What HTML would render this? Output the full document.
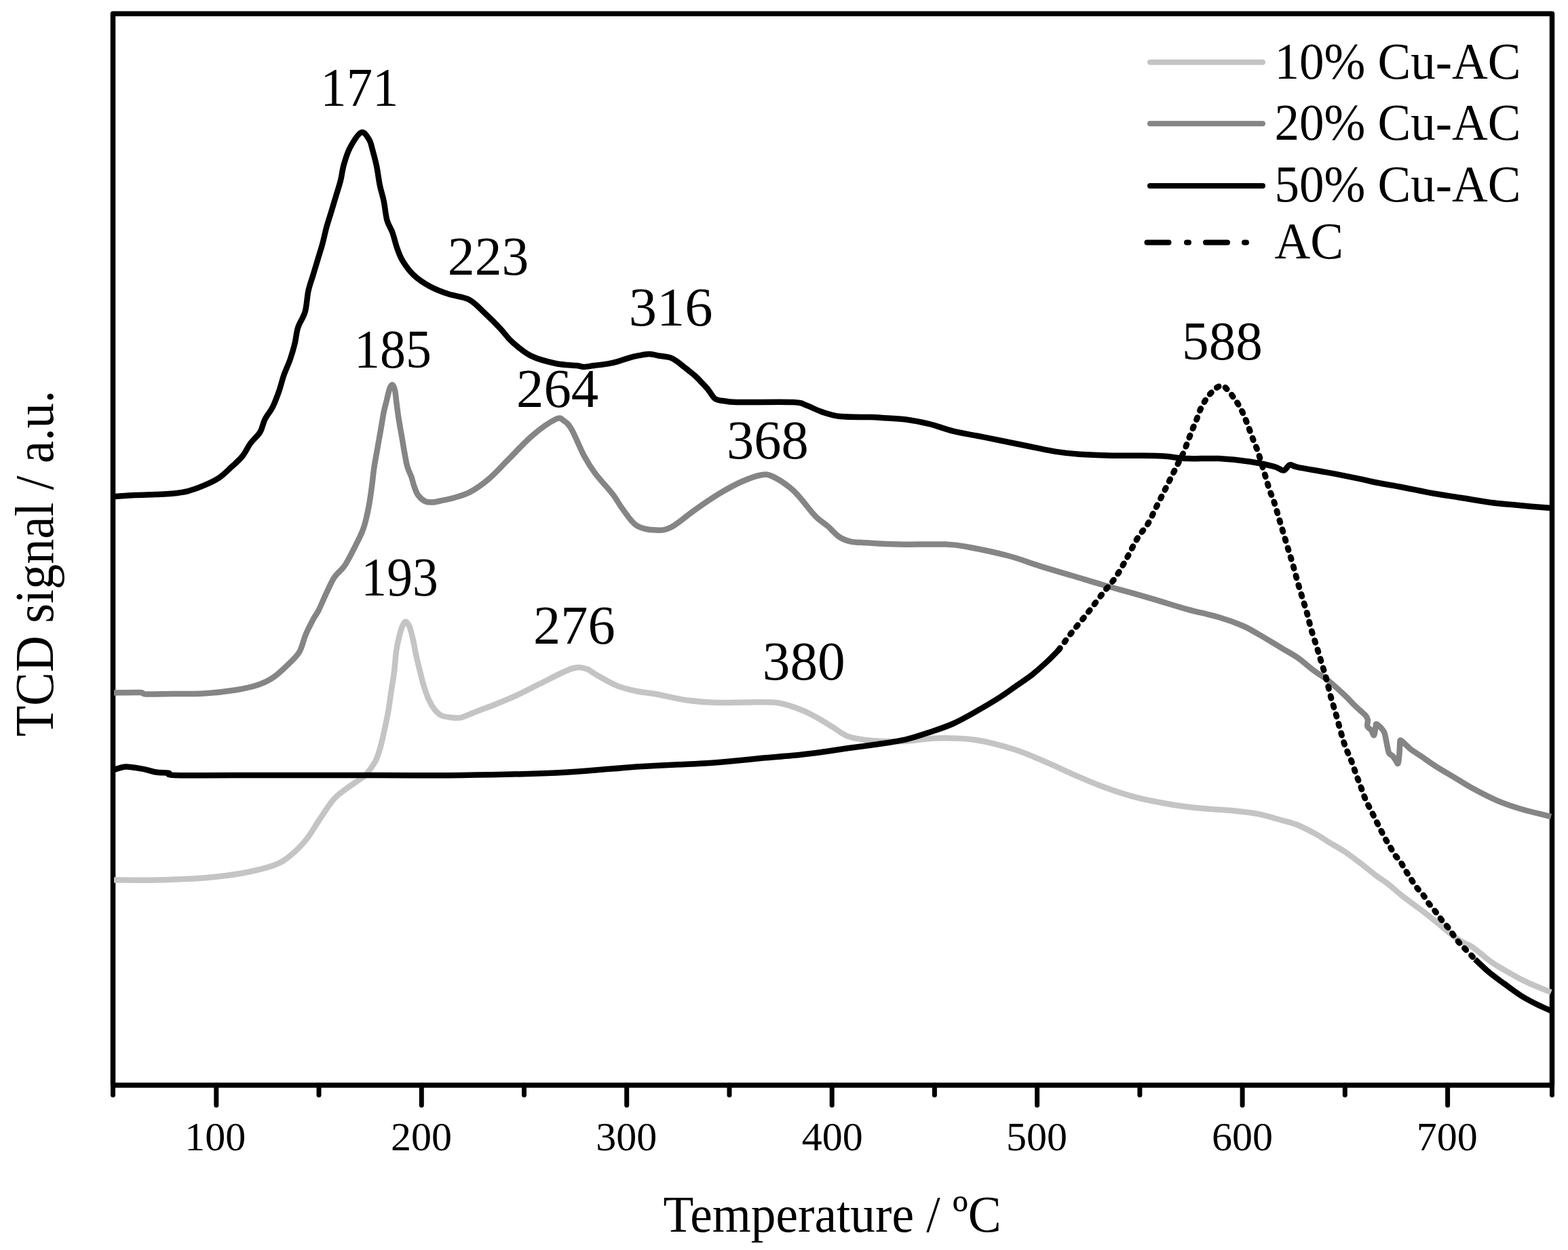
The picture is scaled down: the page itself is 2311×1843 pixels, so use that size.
<!DOCTYPE html>
<html><head><meta charset="utf-8"><title>TCD signal vs Temperature</title>
<style>html,body{margin:0;padding:0;background:#fff;}body{width:2311px;height:1843px;overflow:hidden;}svg{display:block;}</style>
</head><body>
<svg width="2311" height="1843" viewBox="0 0 2311 1843" font-family="'Liberation Serif', 'Times New Roman', serif" fill="#000">
<path d="M166.5,1600 L166.5,20.3 L2287.5,20.3 L2287.5,1600 Z" fill="none" stroke="#000" stroke-width="7.5" stroke-linejoin="round"/>
<path d="M318.8,1600 V1629.5 M621.3,1600 V1629.5 M923.7,1600 V1629.5 M1226.2,1600 V1629.5 M1528.6,1600 V1629.5 M1831.1,1600 V1629.5 M2133.6,1600 V1629.5 M470.0,1600 V1614.5 M772.5,1600 V1614.5 M1075.0,1600 V1614.5 M1377.4,1600 V1614.5 M1679.9,1600 V1614.5 M1982.3,1600 V1614.5 M166.5,1600 V1614.5 M2287.5,1600 V1614.5" stroke="#000" stroke-width="7" stroke-linecap="round" fill="none"/>
<path d="M168.0,1297.5 C178.3,1297.5 207.9,1298.0 229.8,1297.5 C251.7,1297.0 278.3,1296.2 299.6,1294.5 C320.9,1292.8 340.4,1290.5 357.8,1287.3 C375.2,1284.1 392.7,1279.9 404.3,1275.6 C415.9,1271.3 419.8,1267.9 427.6,1261.7 C435.4,1255.5 443.9,1246.9 450.9,1238.4 C457.9,1229.9 462.9,1220.2 469.5,1210.5 C476.1,1200.8 483.8,1188.0 490.4,1180.2 C497.0,1172.4 502.0,1169.3 509.0,1163.9 C516.0,1158.5 527.1,1151.6 532.3,1147.7 C537.5,1143.8 536.9,1145.1 540.4,1140.8 C543.9,1136.5 550.1,1128.5 553.5,1121.9 C556.9,1115.4 558.5,1109.0 560.7,1101.5 C562.9,1094.0 564.5,1085.8 566.5,1076.8 C568.5,1067.8 570.7,1057.4 572.4,1047.7 C574.1,1038.0 575.2,1028.3 576.7,1018.6 C578.2,1008.9 579.9,999.2 581.1,989.5 C582.3,979.8 582.8,969.0 584.0,960.5 C585.2,952.0 586.9,944.7 588.4,938.6 C589.9,932.5 591.1,927.7 592.7,924.1 C594.3,920.5 596.0,916.8 597.8,916.8 C599.6,916.8 601.8,919.7 603.6,924.1 C605.4,928.5 607.1,936.2 608.7,943.0 C610.3,949.8 611.4,957.0 613.1,964.8 C614.8,972.5 617.0,981.7 618.9,989.5 C620.8,997.3 622.5,1004.4 624.7,1011.4 C626.9,1018.4 629.3,1025.9 632.0,1031.7 C634.7,1037.5 637.6,1042.4 640.7,1046.3 C643.9,1050.2 646.8,1053.1 650.9,1055.0 C655.0,1056.9 660.6,1057.4 665.5,1057.9 C670.4,1058.4 673.8,1059.4 680.0,1057.9 C686.2,1056.4 694.4,1052.0 702.9,1048.7 C711.4,1045.4 721.1,1042.1 730.8,1038.2 C740.5,1034.3 750.1,1030.4 761.0,1025.4 C771.9,1020.4 782.4,1014.6 796.0,1008.0 C809.6,1001.4 831.3,989.6 842.5,985.9 C853.7,982.2 857.6,984.5 863.4,985.9 C869.2,987.2 870.0,989.9 877.4,994.0 C884.8,998.1 897.6,1006.1 907.7,1010.3 C917.8,1014.5 928.1,1016.9 937.9,1019.0 C947.7,1021.1 954.0,1021.0 966.5,1023.2 C979.0,1025.5 997.6,1030.4 1013.1,1032.5 C1028.6,1034.6 1045.1,1035.5 1059.6,1036.0 C1074.1,1036.5 1085.5,1035.5 1100.0,1035.5 C1114.5,1035.5 1132.9,1034.3 1146.4,1036.2 C1159.9,1038.1 1171.5,1043.0 1181.2,1046.7 C1190.9,1050.4 1196.7,1054.0 1204.4,1058.3 C1212.1,1062.5 1219.9,1067.6 1227.6,1072.2 C1235.3,1076.8 1241.0,1082.8 1250.7,1086.1 C1260.4,1089.4 1272.0,1090.7 1285.5,1091.9 C1299.0,1093.1 1316.4,1093.7 1331.9,1093.1 C1347.4,1092.5 1360.9,1088.8 1378.3,1088.4 C1395.7,1088.0 1417.0,1088.0 1436.3,1090.7 C1455.6,1093.4 1476.8,1099.3 1494.2,1104.7 C1511.6,1110.1 1525.1,1116.6 1540.6,1123.2 C1556.1,1129.8 1572.8,1137.9 1587.0,1144.1 C1601.2,1150.2 1611.6,1154.9 1625.8,1160.1 C1640.0,1165.3 1655.5,1170.8 1672.3,1175.2 C1689.1,1179.6 1709.7,1183.4 1726.5,1186.2 C1743.3,1189.0 1757.6,1190.5 1773.1,1192.0 C1788.6,1193.5 1806.0,1194.1 1819.6,1195.5 C1833.2,1196.9 1842.9,1197.9 1854.5,1200.2 C1866.1,1202.5 1879.7,1206.8 1889.4,1209.5 C1899.1,1212.2 1904.2,1213.0 1912.7,1216.5 C1921.2,1220.0 1932.8,1226.1 1940.6,1230.4 C1948.3,1234.7 1952.2,1237.8 1959.2,1242.1 C1966.2,1246.4 1974.3,1250.5 1982.5,1256.0 C1990.7,1261.5 2001.1,1269.7 2008.6,1275.4 C2016.0,1281.1 2021.0,1285.7 2027.2,1290.3 C2033.4,1294.9 2039.7,1298.5 2045.9,1303.3 C2052.1,1308.1 2058.3,1314.1 2064.5,1319.1 C2070.7,1324.1 2076.9,1328.4 2083.1,1333.1 C2089.3,1337.8 2095.5,1342.3 2101.7,1347.1 C2107.9,1351.9 2115.6,1358.2 2120.3,1362.0 C2125.0,1365.8 2124.4,1365.8 2129.7,1370.0 C2135.0,1374.2 2145.5,1383.0 2152.3,1387.4 C2159.1,1391.8 2162.8,1391.3 2170.3,1396.4 C2177.8,1401.5 2188.4,1411.7 2197.4,1418.0 C2206.4,1424.3 2215.4,1429.2 2224.4,1434.3 C2233.4,1439.4 2241.2,1443.9 2251.5,1448.7 C2261.8,1453.5 2280.2,1460.7 2286.0,1463.1" fill="none" stroke="#c4c4c4" stroke-width="8.5" stroke-linejoin="round" stroke-linecap="butt"/>
<path d="M168.0,1021.5 C174.4,1021.4 198.7,1020.7 206.5,1021.0 C214.3,1021.3 207.2,1023.2 215.0,1023.5 C222.8,1023.8 239.0,1023.2 253.1,1023.0 C267.2,1022.8 284.1,1023.4 299.6,1022.5 C315.1,1021.6 332.6,1019.7 346.2,1017.5 C359.8,1015.3 371.4,1012.7 381.1,1009.4 C390.8,1006.1 396.6,1003.1 404.3,997.7 C412.1,992.3 421.4,983.0 427.6,976.8 C433.8,970.6 437.7,967.5 441.6,960.5 C445.5,953.5 447.4,943.0 450.9,934.9 C454.4,926.8 459.4,917.4 462.5,911.6 C465.6,905.8 466.4,906.2 469.5,900.0 C472.6,893.8 477.2,882.5 481.1,874.4 C485.0,866.2 488.2,858.1 492.8,851.1 C497.4,844.1 503.2,841.5 509.0,832.5 C514.8,823.5 523.0,806.6 527.6,797.3 C532.2,788.0 533.7,785.4 536.4,776.9 C539.1,768.4 541.7,756.3 543.6,746.4 C545.5,736.5 546.7,727.0 548.0,717.3 C549.3,707.6 550.1,697.9 551.6,688.2 C553.1,678.5 555.0,668.8 556.7,659.1 C558.4,649.4 560.3,638.5 561.8,630.0 C563.3,621.5 564.2,614.8 565.5,608.2 C566.8,601.7 568.3,596.5 569.8,590.7 C571.2,584.9 572.8,577.2 574.2,573.3 C575.7,569.4 577.2,567.0 578.5,567.5 C579.8,568.0 581.2,571.9 582.2,576.2 C583.2,580.6 583.5,587.1 584.4,593.6 C585.2,600.1 586.1,607.7 587.3,615.5 C588.5,623.3 590.1,631.7 591.6,640.2 C593.1,648.7 594.5,658.4 596.0,666.4 C597.5,674.4 598.7,682.2 600.4,688.2 C602.1,694.2 604.5,697.9 606.2,702.7 C607.9,707.6 608.8,712.7 610.5,717.3 C612.2,721.9 613.7,726.8 616.4,730.4 C619.1,734.0 622.9,737.4 626.5,739.1 C630.1,740.8 633.8,740.8 638.2,740.5 C642.6,740.2 647.7,738.6 652.7,737.6 C657.7,736.6 661.2,736.4 668.0,734.3 C674.8,732.2 684.7,729.9 693.6,725.0 C702.5,720.1 712.2,713.2 721.5,705.2 C730.8,697.2 738.9,687.8 749.4,677.3 C759.9,666.8 772.7,652.3 784.3,642.4 C795.9,632.5 811.4,621.7 819.2,618.0 C827.0,614.3 827.0,617.8 830.9,620.3 C834.8,622.8 837.5,624.4 842.5,633.1 C847.5,641.8 855.3,661.8 861.1,672.6 C866.9,683.5 870.4,688.9 877.4,698.2 C884.4,707.5 896.2,719.7 903.0,728.5 C909.8,737.3 912.1,743.3 918.0,751.0 C923.9,758.7 930.2,769.7 938.3,774.8 C946.4,779.9 957.9,781.2 966.5,781.6 C975.1,782.0 980.1,782.0 989.8,777.0 C999.5,772.0 1013.1,759.5 1024.7,751.4 C1036.3,743.2 1048.0,735.1 1059.6,728.1 C1071.2,721.1 1084.0,714.1 1094.5,709.5 C1105.0,704.9 1115.0,701.4 1122.4,700.2 C1129.8,699.0 1131.7,699.4 1138.7,702.5 C1145.7,705.6 1157.6,713.6 1164.3,718.8 C1171.0,724.0 1172.7,726.5 1179.0,733.6 C1185.3,740.7 1195.4,754.5 1202.2,761.5 C1209.0,768.5 1213.8,770.4 1219.6,775.4 C1225.4,780.4 1231.2,787.7 1237.0,791.6 C1242.8,795.5 1247.7,797.2 1254.4,798.6 C1261.2,800.0 1265.9,799.6 1277.5,800.3 C1289.1,801.0 1304.6,802.2 1323.9,802.6 C1343.2,803.0 1376.2,801.9 1393.5,802.6 C1410.8,803.3 1412.5,803.9 1428.0,806.7 C1443.5,809.5 1468.8,814.9 1486.2,819.5 C1503.7,824.1 1517.2,829.8 1532.7,834.6 C1548.2,839.4 1563.7,843.9 1579.2,848.5 C1594.7,853.1 1610.3,858.0 1625.8,862.5 C1641.3,867.0 1659.4,871.6 1672.3,875.3 C1685.2,878.9 1690.4,880.6 1703.3,884.4 C1716.2,888.2 1734.3,894.0 1749.8,898.3 C1765.3,902.6 1782.7,906.0 1796.3,910.0 C1809.9,914.0 1821.5,918.4 1831.2,922.5 C1840.9,926.6 1844.8,929.4 1854.5,934.9 C1864.2,940.4 1879.7,950.0 1889.4,955.8 C1899.1,961.6 1904.9,964.4 1912.7,969.8 C1920.5,975.2 1928.2,982.6 1936.0,988.4 C1943.8,994.2 1951.5,998.5 1959.2,1004.7 C1967.0,1010.9 1976.5,1020.1 1982.5,1025.7 C1988.5,1031.3 1991.5,1035.0 1995.0,1038.5 C1998.5,1042.0 2000.8,1043.9 2003.7,1046.6 C2006.6,1049.3 2010.5,1052.4 2012.5,1054.8 C2014.5,1057.2 2015.4,1058.5 2015.9,1061.2 C2016.4,1063.9 2014.5,1068.5 2015.4,1071.1 C2016.3,1073.7 2019.6,1074.8 2021.2,1076.9 C2022.8,1079.0 2024.1,1084.9 2025.2,1083.9 C2026.3,1082.9 2027.0,1073.8 2027.6,1071.1 C2028.2,1068.4 2027.3,1067.2 2028.7,1067.6 C2030.1,1068.0 2033.8,1071.3 2035.7,1073.4 C2037.7,1075.5 2039.2,1077.6 2040.4,1080.4 C2041.6,1083.2 2041.9,1086.7 2042.7,1090.3 C2043.5,1093.9 2044.2,1098.5 2045.0,1101.9 C2045.8,1105.3 2046.0,1108.4 2047.4,1110.6 C2048.8,1112.8 2051.5,1113.3 2053.2,1115.3 C2054.9,1117.2 2056.6,1120.6 2057.8,1122.3 C2059.1,1124.0 2059.9,1127.2 2060.7,1125.2 C2061.5,1123.2 2062.1,1115.0 2062.5,1110.6 C2062.9,1106.2 2062.8,1102.2 2063.1,1099.0 C2063.4,1095.8 2062.9,1091.8 2064.2,1091.4 C2065.4,1091.0 2068.1,1094.5 2070.6,1096.7 C2073.1,1098.9 2075.3,1101.7 2079.4,1104.8 C2083.5,1107.9 2088.9,1111.1 2095.0,1115.3 C2101.1,1119.5 2108.1,1124.7 2116.2,1129.8 C2124.2,1134.9 2134.3,1140.7 2143.3,1146.1 C2152.3,1151.5 2159.8,1156.6 2170.3,1162.3 C2180.8,1168.0 2194.4,1175.2 2206.4,1180.3 C2218.4,1185.4 2229.2,1189.0 2242.5,1193.0 C2255.8,1197.0 2278.8,1202.2 2286.0,1204.0" fill="none" stroke="#858585" stroke-width="8.5" stroke-linejoin="round"/>
<path d="M168.0,1135.0 C170.9,1134.2 178.4,1130.6 185.6,1130.4 C192.8,1130.2 203.8,1132.6 211.2,1133.9 C218.6,1135.2 223.6,1137.5 229.8,1138.5 C236.0,1139.5 243.8,1139.0 248.4,1139.7 C253.1,1140.5 241.4,1142.5 257.7,1143.0 C274.0,1143.5 296.5,1143.0 346.2,1143.0 C395.9,1143.0 500.0,1143.0 555.6,1143.0 C611.2,1143.0 635.7,1143.6 679.6,1143.0 C723.5,1142.4 782.4,1141.1 819.2,1139.5 C856.1,1137.9 880.9,1135.1 900.7,1133.6 C920.5,1132.1 921.4,1131.5 937.9,1130.5 C954.4,1129.5 982.7,1128.2 1000.0,1127.3 C1017.3,1126.4 1027.8,1126.1 1041.7,1125.2 C1055.6,1124.3 1069.6,1123.0 1083.5,1121.7 C1097.4,1120.4 1111.3,1118.9 1125.2,1117.6 C1139.1,1116.3 1153.1,1115.5 1167.0,1114.1 C1180.9,1112.7 1194.8,1111.0 1208.7,1109.2 C1222.6,1107.4 1236.6,1105.0 1250.5,1103.0 C1264.4,1101.0 1278.1,1099.6 1292.2,1097.5 C1306.3,1095.4 1322.0,1093.3 1334.9,1090.3 C1347.8,1087.3 1358.2,1083.6 1369.8,1079.7 C1381.4,1075.8 1393.1,1072.2 1404.7,1067.0 C1416.3,1061.8 1428.0,1055.0 1439.6,1048.4 C1451.2,1041.8 1464.8,1033.7 1474.5,1027.5 C1484.2,1021.3 1490.0,1016.6 1497.8,1011.2 C1505.6,1005.8 1513.3,1001.0 1521.1,994.9 C1528.8,988.8 1537.7,980.6 1544.3,974.5 C1550.9,968.4 1557.9,960.8 1560.6,958.0" fill="none" stroke="#000" stroke-width="8.5" stroke-linejoin="round"/>
<path d="M1560.6,958.0 C1563.7,953.8 1572.2,941.9 1579.2,933.0 C1586.2,924.1 1594.7,914.2 1602.5,904.4 C1610.3,894.6 1618.8,883.0 1625.8,874.1 C1632.8,865.2 1638.6,859.4 1644.4,850.9 C1650.2,842.4 1655.3,832.7 1660.7,823.0 C1666.1,813.3 1671.8,801.1 1677.0,792.7 C1682.2,784.3 1687.2,779.9 1691.6,772.7 C1696.0,765.5 1699.4,757.1 1703.3,749.4 C1707.2,741.6 1711.0,734.0 1714.9,726.2 C1718.8,718.5 1722.6,710.7 1726.5,702.9 C1730.4,695.1 1735.2,685.5 1738.2,679.6 C1741.2,673.7 1742.2,672.1 1744.3,667.3 C1746.4,662.5 1748.6,656.2 1750.7,650.7 C1752.8,645.2 1755.0,639.4 1757.1,634.1 C1759.2,628.8 1761.5,623.9 1763.5,618.8 C1765.5,613.7 1767.2,608.1 1769.3,603.4 C1771.4,598.7 1773.8,594.4 1776.3,590.5 C1778.8,586.6 1781.4,583.3 1784.0,580.3 C1786.6,577.3 1788.8,574.6 1791.7,572.6 C1794.6,570.6 1798.3,568.1 1801.3,568.5 C1804.3,568.9 1806.7,572.2 1809.6,575.2 C1812.5,578.2 1815.8,582.9 1818.6,586.7 C1821.4,590.5 1823.8,593.9 1826.2,598.2 C1828.7,602.5 1831.0,607.0 1833.3,612.3 C1835.6,617.6 1837.9,624.0 1840.3,630.2 C1842.7,636.4 1845.1,643.2 1847.4,649.4 C1849.8,655.6 1851.7,659.2 1854.4,667.3 C1857.1,675.4 1861.1,689.2 1863.8,698.2 C1866.5,707.2 1868.5,714.5 1870.8,721.5 C1873.1,728.5 1875.5,733.1 1877.8,740.1 C1880.1,747.1 1882.5,755.6 1884.8,763.4 C1887.1,771.2 1889.4,779.0 1891.7,786.7 C1894.0,794.5 1896.4,802.1 1898.7,809.9 C1901.0,817.6 1903.4,825.1 1905.7,833.2 C1908.0,841.4 1910.4,850.6 1912.7,858.8 C1915.0,866.9 1917.4,874.4 1919.7,882.1 C1922.0,889.9 1924.6,897.7 1926.7,905.3 C1928.8,912.9 1930.2,919.9 1932.5,927.9 C1934.8,935.9 1938.1,945.4 1940.6,953.5 C1943.1,961.6 1945.3,969.0 1947.6,976.8 C1949.9,984.6 1952.3,991.6 1954.6,1000.1 C1956.9,1008.6 1959.3,1019.5 1961.6,1028.0 C1963.9,1036.5 1966.2,1043.2 1968.5,1051.3 C1970.8,1059.4 1973.2,1068.7 1975.5,1076.8 C1977.8,1084.9 1979.8,1092.6 1982.5,1100.1 C1985.2,1107.6 1989.1,1115.0 1991.8,1122.0 C1994.5,1129.0 1996.5,1135.6 1998.8,1142.0 C2001.1,1148.4 2003.5,1154.4 2005.8,1160.6 C2008.1,1166.8 2010.1,1173.0 2012.8,1179.2 C2015.5,1185.4 2019.0,1191.6 2022.1,1197.8 C2025.2,1204.0 2028.3,1210.4 2031.4,1216.5 C2034.5,1222.6 2037.8,1229.4 2040.5,1234.4 C2043.2,1239.4 2045.2,1242.3 2047.7,1246.5 C2050.2,1250.7 2052.5,1255.7 2055.2,1259.6 C2057.8,1263.5 2061.1,1266.2 2063.6,1269.8 C2066.1,1273.4 2067.9,1277.4 2070.1,1281.0 C2072.3,1284.6 2074.4,1287.8 2076.6,1291.2 C2078.8,1294.6 2080.8,1298.1 2083.1,1301.5 C2085.4,1304.9 2088.1,1308.6 2090.6,1311.7 C2093.1,1314.8 2095.7,1317.0 2098.0,1320.1 C2100.3,1323.2 2102.0,1326.9 2104.5,1330.3 C2107.0,1333.7 2110.4,1337.5 2112.9,1340.6 C2115.4,1343.7 2117.1,1345.8 2119.4,1348.9 C2121.7,1352.0 2124.4,1356.1 2126.9,1359.2 C2129.4,1362.3 2132.0,1364.6 2134.3,1367.6 C2136.6,1370.5 2138.5,1373.7 2140.8,1376.9 C2143.1,1380.2 2145.8,1384.0 2148.3,1387.1 C2150.8,1390.2 2151.6,1391.0 2155.9,1395.5 C2160.2,1400.0 2171.0,1411.2 2174.0,1414.4" fill="none" stroke="#000" stroke-width="8.8" stroke-dasharray="3.2 11" stroke-linecap="round"/>
<path d="M2174.0,1414.4 C2177.6,1417.7 2188.4,1428.3 2195.6,1434.3 C2202.8,1440.3 2209.4,1444.8 2217.2,1450.5 C2225.0,1456.2 2234.4,1463.4 2242.5,1468.5 C2250.6,1473.6 2258.7,1477.6 2265.9,1481.2 C2273.2,1484.8 2282.7,1488.7 2286.0,1490.2" fill="none" stroke="#000" stroke-width="8.5" stroke-linejoin="round"/>
<path d="M168.0,732.0 C173.3,731.7 189.3,730.6 199.6,730.1 C209.9,729.6 220.9,729.4 229.8,729.0 C238.7,728.6 245.3,728.6 253.1,727.8 C260.9,727.0 268.6,726.2 276.3,724.3 C284.1,722.4 291.8,719.5 299.6,716.2 C307.4,712.9 315.9,709.2 322.9,704.5 C329.9,699.8 335.7,693.6 341.5,688.2 C347.3,682.8 353.2,677.8 357.8,672.0 C362.4,666.2 365.1,659.1 369.4,653.3 C373.7,647.5 379.9,642.8 383.4,637.0 C386.9,631.2 387.3,624.6 390.4,618.4 C393.5,612.2 398.5,606.8 402.0,599.8 C405.5,592.8 408.6,584.2 411.3,576.5 C414.0,568.8 415.6,561.0 418.3,553.3 C421.0,545.5 424.9,537.9 427.6,530.0 C430.3,522.1 432.7,513.9 434.6,506.0 C436.5,498.1 436.7,490.6 439.2,482.8 C441.7,475.1 447.2,468.4 449.7,459.5 C452.2,450.6 452.5,438.1 454.4,429.2 C456.3,420.3 459.0,413.8 461.3,406.0 C463.6,398.2 466.0,390.5 468.3,382.7 C470.6,374.9 473.2,367.2 475.3,359.4 C477.4,351.6 478.9,343.7 481.0,336.0 C483.1,328.3 485.7,320.7 488.0,313.0 C490.3,305.3 492.7,297.4 495.0,289.6 C497.3,281.8 500.1,273.8 502.0,266.0 C503.9,258.2 504.4,251.1 506.7,243.0 C509.0,234.9 511.7,225.4 516.0,217.5 C520.3,209.6 527.6,197.3 532.3,195.4 C537.0,193.5 541.2,201.4 544.0,205.8 C546.8,210.2 547.4,215.3 549.3,221.9 C551.1,228.5 553.4,236.7 555.1,245.2 C556.9,253.7 558.0,264.6 559.8,273.1 C561.5,281.6 563.9,287.8 565.6,296.3 C567.4,304.8 568.2,316.5 570.3,324.3 C572.4,332.1 575.9,335.9 578.4,342.9 C580.9,349.9 582.9,359.2 585.4,366.2 C587.9,373.2 589.4,378.2 593.5,384.8 C597.6,391.4 603.2,399.5 609.8,405.7 C616.4,411.9 624.6,417.4 633.1,422.0 C641.6,426.6 651.3,430.3 661.0,433.6 C670.7,436.9 682.4,437.1 691.3,441.8 C700.2,446.5 706.8,454.4 714.5,461.6 C722.2,468.8 731.2,477.8 737.8,484.8 C744.4,491.8 746.7,496.8 754.1,503.4 C761.5,510.0 771.1,519.0 782.0,524.4 C792.9,529.8 807.9,533.6 819.2,536.0 C830.5,538.4 843.2,538.2 850.0,539.0 C856.8,539.8 856.0,541.0 860.2,541.0 C864.5,541.0 869.5,539.8 875.5,539.0 C881.5,538.2 889.9,537.4 895.9,536.4 C901.9,535.4 906.1,534.3 911.2,532.9 C916.3,531.5 921.4,529.2 926.5,527.8 C931.6,526.3 936.7,525.2 941.8,524.2 C946.9,523.2 952.0,522.0 957.1,522.1 C962.2,522.2 967.3,523.9 972.4,524.7 C977.5,525.6 983.5,525.8 987.8,527.2 C992.1,528.6 994.6,530.6 998.0,532.9 C1001.4,535.2 1004.0,537.6 1008.2,541.0 C1012.5,544.4 1019.2,549.5 1023.5,553.3 C1027.8,557.0 1030.3,559.9 1033.7,563.5 C1037.1,567.1 1040.5,570.6 1043.9,574.7 C1047.3,578.8 1049.8,585.2 1054.1,588.0 C1058.3,590.8 1063.1,590.7 1069.4,591.5 C1075.8,592.3 1075.6,592.8 1092.2,593.0 C1108.8,593.2 1153.1,592.3 1169.0,593.0 C1184.9,593.7 1180.6,594.9 1187.6,597.3 C1194.6,599.6 1202.4,604.3 1210.9,607.1 C1219.4,609.9 1226.8,612.8 1238.8,614.1 C1250.8,615.4 1272.8,614.7 1283.0,615.0 C1293.2,615.3 1291.3,615.4 1300.0,616.0 C1308.7,616.6 1323.4,617.0 1335.0,618.5 C1346.6,620.0 1358.2,622.4 1369.8,625.2 C1381.4,628.1 1393.1,632.7 1404.7,635.6 C1416.3,638.5 1428.0,640.2 1439.6,642.5 C1451.2,644.8 1460.9,646.8 1474.5,649.5 C1488.1,652.2 1507.5,656.3 1521.1,659.0 C1534.7,661.7 1544.4,664.1 1556.0,665.9 C1567.6,667.7 1577.0,668.8 1590.9,669.8 C1604.9,670.8 1624.9,671.4 1639.7,671.7 C1654.5,672.0 1667.5,671.6 1680.0,671.8 C1692.5,671.9 1703.3,671.9 1714.9,672.6 C1726.5,673.3 1736.2,675.5 1749.8,676.1 C1763.4,676.7 1780.8,675.3 1796.3,676.1 C1811.8,676.9 1829.3,678.8 1842.9,680.8 C1856.5,682.8 1869.7,685.7 1877.8,687.8 C1885.9,689.9 1887.8,694.0 1891.7,693.6 C1895.6,693.2 1897.6,686.2 1901.1,685.4 C1904.6,684.6 1903.0,686.9 1912.7,688.9 C1922.4,690.9 1943.7,694.2 1959.2,697.1 C1974.7,700.0 1994.7,704.1 2005.8,706.4 C2016.9,708.7 2016.7,709.1 2026.1,711.0 C2035.5,712.9 2047.7,714.8 2062.1,717.5 C2076.5,720.2 2097.6,724.8 2112.6,727.5 C2127.6,730.2 2138.2,731.5 2152.3,733.8 C2166.4,736.0 2183.9,739.2 2197.4,741.0 C2210.9,742.8 2218.8,743.2 2233.5,744.6 C2248.2,746.0 2277.1,748.4 2285.8,749.1" fill="none" stroke="#000" stroke-width="8.5" stroke-linejoin="round"/>
<path d="M1695,91.7 H1861" stroke="#c4c4c4" stroke-width="8" stroke-linecap="round"/>
<path d="M1695,182.2 H1861" stroke="#858585" stroke-width="8" stroke-linecap="round"/>
<path d="M1695,274 H1861" stroke="#000" stroke-width="8" stroke-linecap="round"/>
<path d="M1690.5,357.5 H1722.5 M1749,357.5 H1752 M1777,357.5 H1809 M1834,357.5 H1837" stroke="#000" stroke-width="8" stroke-linecap="round"/>
<text transform="translate(272.3,1696.0) scale(1.0000,1)" font-size="60">100</text>
<text transform="translate(576.0,1696.0) scale(1.0000,1)" font-size="60">200</text>
<text transform="translate(878.3,1696.0) scale(1.0000,1)" font-size="60">300</text>
<text transform="translate(1181.7,1696.0) scale(1.0000,1)" font-size="60">400</text>
<text transform="translate(1483.0,1696.0) scale(1.0000,1)" font-size="60">500</text>
<text transform="translate(1786.0,1696.0) scale(1.0000,1)" font-size="60">600</text>
<text transform="translate(2087.7,1696.0) scale(1.0000,1)" font-size="60">700</text>
<text transform="translate(977.5,1815.7) scale(0.9527,1)" font-size="77">Temperature / ºC</text>
<text transform="translate(1878.5,116.3) scale(0.9671,1)" font-size="75.5">10% Cu-AC</text>
<text transform="translate(1878.5,206.2) scale(0.9671,1)" font-size="75.5">20% Cu-AC</text>
<text transform="translate(1878.5,297.3) scale(0.9671,1)" font-size="75.5">50% Cu-AC</text>
<text transform="translate(1878.5,380.6) scale(0.9671,1)" font-size="75.5">AC</text>
<text transform="translate(472.3,156.0) scale(0.9532,1)" font-size="80.5">171</text>
<text transform="translate(659.8,404.5) scale(0.9904,1)" font-size="80.5">223</text>
<text transform="translate(926.7,480.3) scale(1.0262,1)" font-size="80.5">316</text>
<text transform="translate(522.0,542.0) scale(0.9430,1)" font-size="80.5">185</text>
<text transform="translate(761.0,600.0) scale(1.0034,1)" font-size="80.5">264</text>
<text transform="translate(1070.9,676.4) scale(1.0009,1)" font-size="80.5">368</text>
<text transform="translate(532.3,878.1) scale(0.9403,1)" font-size="80.5">193</text>
<text transform="translate(786.0,948.6) scale(0.9996,1)" font-size="80.5">276</text>
<text transform="translate(1123.7,1001.8) scale(1.0114,1)" font-size="80.5">380</text>
<text transform="translate(1742.0,529.5) scale(0.9850,1)" font-size="80.5">588</text>
<text transform="translate(77.9,1086.1) rotate(-90) scale(0.9361,1)" font-size="79.5">TCD signal / a.u.</text>
</svg>
</body></html>
